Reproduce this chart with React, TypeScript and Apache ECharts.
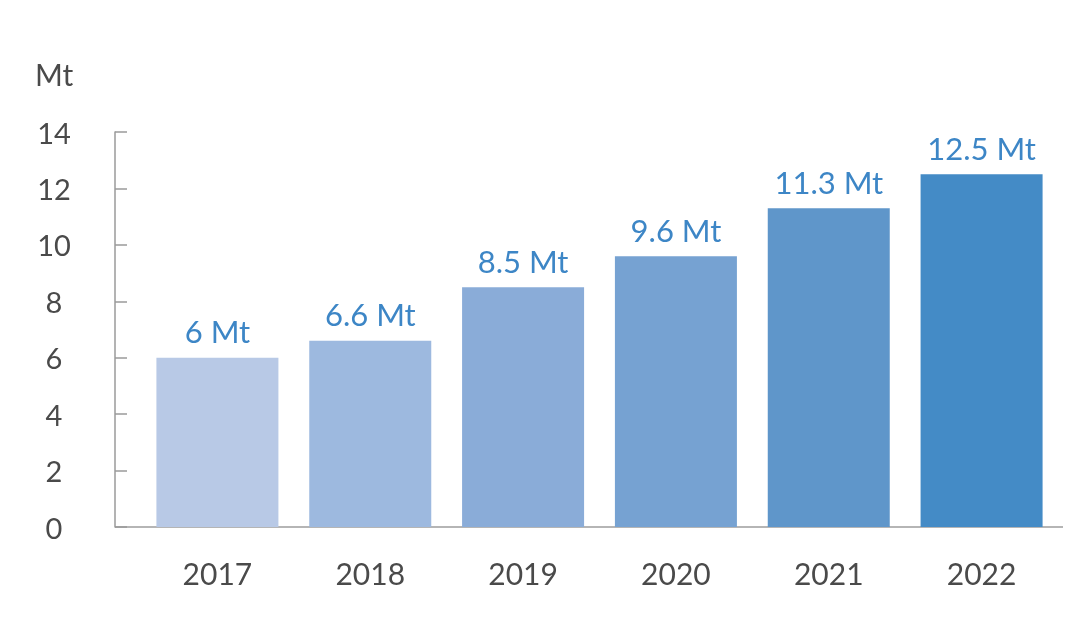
import React, { useEffect, useRef } from "react";
import * as echarts from "echarts";

const categories = ["2017", "2018", "2019", "2020", "2021", "2022"];
const values = [6, 6.6, 8.5, 9.6, 11.3, 12.5];
const barColors = ["#b8c9e6", "#9db9df", "#8aacd8", "#76a2d2", "#5f96ca", "#448bc6"];
const unitLabel = "Mt";

export default function App() {
  const ref = useRef<HTMLDivElement>(null);
  useEffect(() => {
    if (!ref.current) return;
    const chart = echarts.init(ref.current, null, { renderer: "svg" });
    const font = "Lato, 'Open Sans', sans-serif";
    chart.setOption({
      animation: false,
      grid: { left: 141, right: 22, top: 132, bottom: 92, containLabel: false },
      xAxis: {
        type: "category",
        data: categories,
        axisLine: { show: false },
        axisTick: { show: false },
        axisLabel: { color: "#4a4a4a", fontSize: 30, fontFamily: font, margin: 31 },
      },
      yAxis: {
        type: "value",
        min: 0,
        max: 14,
        interval: 2,
        offset: 26,
        splitLine: { show: false },
        axisLine: { show: true, lineStyle: { color: "#9a9a9a", width: 1.5 } },
        axisTick: { show: true, inside: true, length: 12, lineStyle: { color: "#9a9a9a", width: 1.5 } },
        axisLabel: { color: "#4a4a4a", fontSize: 29, fontFamily: font, margin: 61, align: "center" },
      },
      graphic: [
        {
          type: "text",
          left: 35,
          top: 59,
          style: { text: unitLabel, fontSize: 30, fontFamily: font, fill: "#4a4a4a" },
        },
        {
          type: "line",
          shape: { x1: 115, y1: 527, x2: 1063, y2: 527 },
          style: { stroke: "#b5b5b5", lineWidth: 2 },
        },
      ],
      series: [
        {
          type: "bar",
          barWidth: 122,
          data: values.map((v, i) => ({ value: v, itemStyle: { color: barColors[i] } })),
          label: {
            show: true,
            position: "top",
            distance: 11,
            formatter: (p: any) => `${p.value} ${unitLabel}`,
            color: "#3d86c6",
            fontSize: 31,
            fontFamily: font,
          },
        },
      ],
    });
    return () => chart.dispose();
  }, []);
  return <div ref={ref} style={{ position: "fixed", left: 0, top: 0, width: 1080, height: 619 }} />;
}
